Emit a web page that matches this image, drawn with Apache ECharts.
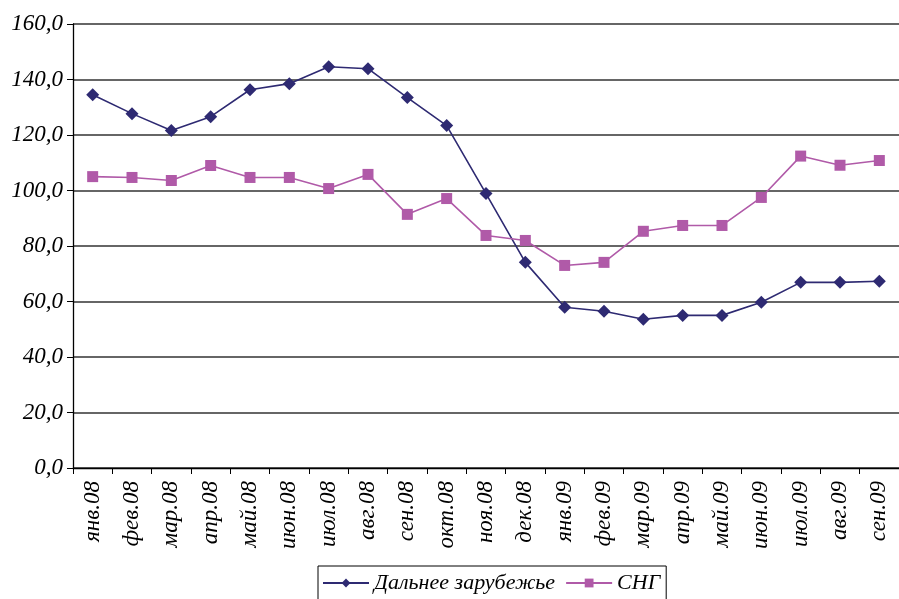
<!DOCTYPE html>
<html>
<head>
<meta charset="utf-8">
<script src="https://cdn.jsdelivr.net/npm/echarts@6/dist/echarts.min.js"></script>
<style>
  html, body { margin: 0; padding: 0; background: #fff; }
  #chart { width: 899px; height: 599px; }
</style>
</head>
<body>
<div id="chart"></div>
<script>
// Monthly indices, Jan 2008 – Sep 2009
const months = ['янв.08','фев.08','мар.08','апр.08','май.08','июн.08','июл.08','авг.08','сен.08','окт.08','ноя.08','дек.08',
                'янв.09','фев.09','мар.09','апр.09','май.09','июн.09','июл.09','авг.09','сен.09'];
const farAbroad = [134.5,127.7,121.6,126.6,136.3,138.5,144.6,143.9,133.5,123.4,98.9,74.1,
                   57.9,56.5,53.6,55.0,55.0,59.7,66.9,66.9,67.3];
const cis = [105.0,104.7,103.6,109.0,104.7,104.7,100.7,105.8,91.4,97.1,83.8,82.0,
             73.0,74.1,85.3,87.4,87.4,97.5,112.4,109.1,110.8];
const seriesNames = ['Дальнее зарубежье', 'СНГ'];

const serif = '"Liberation Serif", "Times New Roman", serif';
const chart = echarts.init(document.getElementById('chart'), null, { renderer: 'canvas' });

chart.setOption({
  animation: false,
  backgroundColor: '#ffffff',
  grid: { left: 73, right: -10, top: 24, bottom: 131, containLabel: false },
  legend: {
    left: 318, top: 566,
    padding: [6, 6, 12, 4],
    itemGap: 10,
    itemWidth: 46, itemHeight: 11,
    borderColor: '#000', borderWidth: 1,
    textStyle: { fontFamily: serif, fontStyle: 'italic', fontSize: 22, color: '#000' },
    data: seriesNames
  },
  xAxis: {
    type: 'category',
    data: months,
    boundaryGap: true,
    axisLine: { lineStyle: { color: '#000', width: 1.3 } },
    axisTick: { show: true, inside: false, length: 6, alignWithLabel: false, lineStyle: { color: '#000' } },
    axisLabel: { rotate: 90, margin: 13, interval: 0,
      fontFamily: serif, fontStyle: 'italic', fontSize: 23, color: '#000' },
    splitLine: { show: false }
  },
  yAxis: {
    type: 'value', min: 0, max: 160, interval: 20,
    axisLine: { show: true, lineStyle: { color: '#000', width: 1.3 } },
    axisTick: { show: true, length: 6, lineStyle: { color: '#000' } },
    axisLabel: { margin: 10, fontFamily: serif, fontStyle: 'italic', fontSize: 23, color: '#000',
      formatter: v => v.toFixed(1).replace('.', ',') },
    splitLine: { show: true, lineStyle: { color: '#333', width: 1.5 } }
  },
  series: [
    {
      name: seriesNames[0], type: 'line', data: farAbroad,
      symbol: 'diamond', symbolSize: 13,
      itemStyle: { color: '#2e2a72' },
      lineStyle: { color: '#2e2a72', width: 1.6 }
    },
    {
      name: seriesNames[1], type: 'line', data: cis,
      symbol: 'rect', symbolSize: 11,
      itemStyle: { color: '#b05aa8' },
      lineStyle: { color: '#b05aa8', width: 1.6 }
    }
  ]
});
</script>
</body>
</html>
